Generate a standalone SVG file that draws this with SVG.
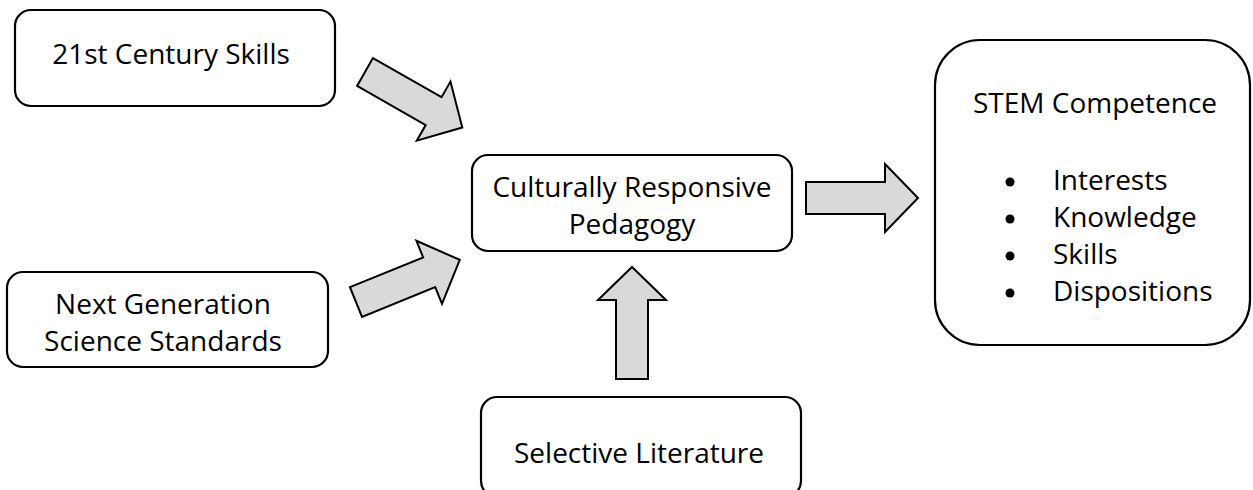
<svg xmlns="http://www.w3.org/2000/svg" width="1253" height="490" viewBox="0 0 1253 490">
<defs>
<style>
.box{fill:#fff;stroke:#000;stroke-width:2.2}
.arrow{fill:#d9d9d9;stroke:#000;stroke-width:2;stroke-linejoin:miter}
text{font-family:"Open Sans","Liberation Sans",sans-serif;font-size:28px;fill:#000}
.c{text-anchor:middle}
</style>
<polygon id="blk" points="0,-16 79,-16 79,-34 112,0 79,34 79,16 0,16"/>
</defs>
<rect width="1253" height="490" fill="#fff"/>
<g id="connectors">
<use href="#blk" class="arrow" transform="translate(365,72) rotate(29.7)"/>
<use href="#blk" class="arrow" transform="translate(356,302) rotate(-22.1)"/>
<use href="#blk" class="arrow" transform="translate(806,198)"/>
<use href="#blk" class="arrow" transform="translate(632,379) rotate(-90)"/>
</g>
<g id="n-21st">
<rect class="box" x="15" y="10" width="320" height="96" rx="16"/>
<text class="c" x="171" y="64">21st Century Skills</text>
</g>
<g id="n-ngss">
<rect class="box" x="7" y="272" width="321" height="95" rx="16"/>
<text class="c" x="163" y="314">Next Generation</text>
<text class="c" x="163" y="351">Science Standards</text>
</g>
<g id="n-crp">
<rect class="box" x="472" y="155" width="320" height="96" rx="16"/>
<text class="c" x="632" y="197">Culturally Responsive</text>
<text class="c" x="632" y="234">Pedagogy</text>
</g>
<g id="n-lit">
<rect class="box" x="481" y="397" width="320" height="100" rx="16"/>
<text class="c" x="639" y="463">Selective Literature</text>
</g>
<g id="n-stem">
<rect class="box" x="935" y="40" width="315" height="305" rx="45"/>
<text class="c" x="1095" y="113">STEM Competence</text>
<circle cx="1010" cy="182" r="4.5"/>
<circle cx="1010" cy="219" r="4.5"/>
<circle cx="1010" cy="256" r="4.5"/>
<circle cx="1010" cy="293" r="4.5"/>
<text x="1053" y="190">Interests</text>
<text x="1053" y="227">Knowledge</text>
<text x="1053" y="264">Skills</text>
<text x="1053" y="301">Dispositions</text>
</g>
</svg>
